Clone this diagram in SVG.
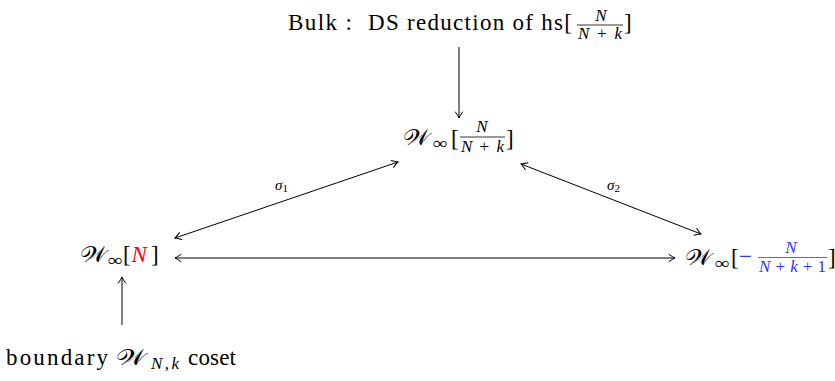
<svg xmlns="http://www.w3.org/2000/svg" width="835" height="381" viewBox="0 0 835 381">
<style>
.rm{font-size:23px}
.it{font-style:italic}
.cal{font-size:22px}
.inf{font-size:17px}
.fr{font-size:17px;font-style:italic}
.lab{font-size:15px;font-style:italic}
.red{fill:#ff0000}
.blue{fill:#3333ff}
.conn line{stroke:#000;stroke-width:1;fill:none}
.bar{stroke-width:0.8}
</style>
<defs>
<marker id="ah" viewBox="-7 -5 8 10" markerWidth="8" markerHeight="10" refX="0" refY="0" orient="auto-start-reverse" markerUnits="userSpaceOnUse">
<path d="M -6 -3.6 Q -2.2 -0.9 0 0 Q -2.2 0.9 -6 3.6" fill="none" stroke="#000" stroke-width="1" stroke-linecap="round"/>
</marker>
</defs>
<g font-family="Liberation Serif" fill="#000">
<g id="bulk">
<text class="rm" x="288" y="30" textLength="64" lengthAdjust="spacing">Bulk :</text>
<text class="rm" x="368" y="30" textLength="204" lengthAdjust="spacing">DS reduction of hs[</text>
<text class="fr" x="601" y="20.5" text-anchor="middle">N</text>
<line x1="577" y1="25" x2="623" y2="25" stroke="#000" class="bar"/>
<text class="fr" x="578" y="39" textLength="44" lengthAdjust="spacing">N<tspan font-style="normal">+</tspan>k</text>
<text class="rm" x="624" y="30">]</text>
</g>
<g id="winf-mid">
<text class="cal" x="403" y="145" textLength="27" lengthAdjust="spacingAndGlyphs">𝒲</text>
<text class="inf" x="433" y="149" textLength="15" lengthAdjust="spacingAndGlyphs">∞</text>
<text class="rm" x="451" y="146">[</text>
<text class="fr" x="482" y="132" text-anchor="middle">N</text>
<line x1="460" y1="137" x2="505" y2="137" stroke="#000" class="bar"/>
<text class="fr" x="461" y="152" textLength="43" lengthAdjust="spacing">N<tspan font-style="normal">+</tspan>k</text>
<text class="rm" x="506" y="146">]</text>
</g>
<g id="winf-left">
<text class="cal" x="80" y="262" textLength="27" lengthAdjust="spacingAndGlyphs">𝒲</text>
<text class="inf" x="108" y="266" textLength="15" lengthAdjust="spacingAndGlyphs">∞</text>
<text class="rm" x="123" y="262">[</text>
<text class="rm it red" x="131.5" y="262">N</text>
<text class="rm" x="151" y="262">]</text>
</g>
<g id="winf-right">
<text class="cal" x="685" y="265" textLength="27" lengthAdjust="spacingAndGlyphs">𝒲</text>
<text class="inf" x="715" y="269" textLength="15" lengthAdjust="spacingAndGlyphs">∞</text>
<text class="rm" x="731" y="265">[</text>
<text class="rm blue" x="739" y="264" textLength="13" lengthAdjust="spacingAndGlyphs">−</text>
<text class="fr blue" x="791" y="253" text-anchor="middle">N</text>
<line x1="758" y1="257.5" x2="827" y2="257.5" stroke="#3333ff" class="bar"/>
<text class="fr blue" x="759" y="272" textLength="67" lengthAdjust="spacing">N<tspan font-style="normal">+</tspan>k<tspan font-style="normal">+1</tspan></text>
<text class="rm" x="828" y="265">]</text>
</g>
<g id="boundary">
<text class="rm" x="6" y="365" textLength="102" lengthAdjust="spacing">boundary</text>
<text class="cal" x="116" y="365" textLength="30" lengthAdjust="spacingAndGlyphs">𝒲</text>
<text class="fr" x="151" y="369" textLength="28" lengthAdjust="spacing">N<tspan font-style="normal">,</tspan>k</text>
<text class="rm" x="188" y="365" textLength="48" lengthAdjust="spacing">coset</text>
</g>
<g class="conn" id="connectors">
<line x1="459" y1="47" x2="459" y2="118" marker-end="url(#ah)"/>
<line x1="175" y1="238" x2="398" y2="162" marker-start="url(#ah)" marker-end="url(#ah)"/>
<line x1="521" y1="164" x2="701" y2="234" marker-start="url(#ah)" marker-end="url(#ah)"/>
<line x1="175" y1="258" x2="675" y2="258" marker-start="url(#ah)" marker-end="url(#ah)"/>
<line x1="122" y1="325" x2="122" y2="277" marker-end="url(#ah)"/>
<text class="lab" x="275" y="190">σ<tspan font-size="11" font-style="normal" dy="2">1</tspan></text>
<text class="lab" x="607" y="190">σ<tspan font-size="11" font-style="normal" dy="2">2</tspan></text>
</g>
</g>
</svg>
